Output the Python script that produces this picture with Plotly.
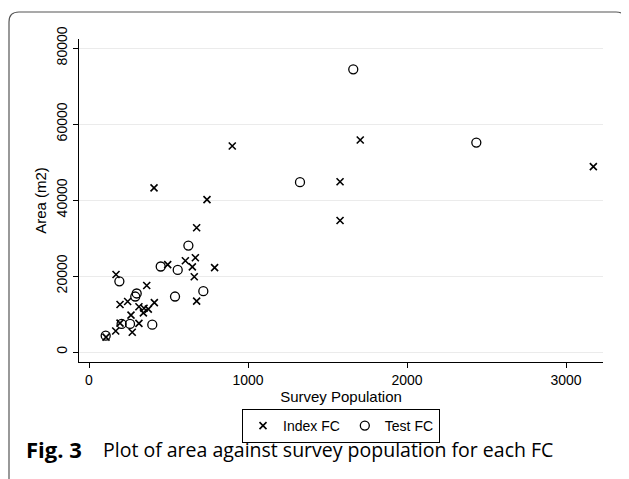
import plotly.graph_objects as go

# Index FC (survey population, area m2)
index_pop = [107, 168, 195, 272, 314, 264, 195, 243, 314, 346, 373, 342, 411,
             170, 363, 409, 495, 606, 669, 650, 662, 677, 677, 742, 790, 901,
             1579, 1579, 1706, 3172]
index_area = [3900, 5530, 7600, 5200, 7550, 9700, 12500, 13300, 11900, 11500,
              11300, 10300, 13000, 20400, 17500, 43200, 23000, 24000, 24800,
              22400, 19800, 13400, 32700, 40100, 22200, 54200, 44800, 34600,
              55800, 48800]

# Test FC
test_pop = [105, 205, 258, 398, 191, 300, 291, 541, 719, 451, 558, 625, 1327,
            1662, 2436]
test_area = [4300, 7400, 7400, 7200, 18600, 15400, 14600, 14600, 16000, 22500,
             21600, 28000, 44700, 74400, 55100]

x_ticks = [0, 1000, 2000, 3000]
y_ticks = [0, 20000, 40000, 60000, 80000]

FONT = "Liberation Sans, Arial, sans-serif"
CAP_FONT = "Open Sans, Noto Sans, sans-serif"

fig = go.Figure()
fig.add_trace(go.Scatter(
    x=index_pop, y=index_area, mode="markers", name="Index FC",
    marker=dict(symbol="x-thin", size=7, color="black",
                line=dict(width=1.6, color="black")),
))
fig.add_trace(go.Scatter(
    x=test_pop, y=test_area, mode="markers", name="Test FC",
    marker=dict(symbol="circle-open", size=9, color="black",
                line=dict(width=1.3, color="black")),
))

OFF = 8  # page body margin
W, H = 629 - OFF, 479 - OFF
L, R, T, B = 79 - OFF, 603 - OFF, 39 - OFF, 362 - OFF
pw, ph = R - L, B - T


def px(xp):
    return (xp - OFF - L) / pw


def py(yp):
    return (B - (yp - OFF)) / ph


# outer rounded frame
r = 10
x0, x1, y0, y1 = 9, 626, 12, 500
path = (f"M {px(x0)} {py(y1)} L {px(x0)} {py(y0 + r)} "
        f"Q {px(x0)} {py(y0)} {px(x0 + r)} {py(y0)} "
        f"L {px(x1 - r)} {py(y0)} Q {px(x1)} {py(y0)} {px(x1)} {py(y0 + r)} "
        f"L {px(x1)} {py(y1)}")
fig.add_shape(type="path", path=path, xref="paper", yref="paper",
              line=dict(color="#555555", width=1.2), layer="above")

fig.add_annotation(
    x=px(24), y=py(449), xref="paper", yref="paper", xanchor="left",
    yanchor="middle", showarrow=False, text="<b>Fig. 3</b>",
    font=dict(family=CAP_FONT, size=22, color="black"),
)
fig.add_annotation(
    x=px(101), y=py(449), xref="paper", yref="paper", xanchor="left",
    yanchor="middle", showarrow=False,
    text="Plot of area against survey population for each FC",
    font=dict(family=CAP_FONT, size=19.5, color="black"),
)

fig.update_layout(
    width=W, height=H,
    margin=dict(l=L, r=W - R, t=T, b=H - B, autoexpand=False),
    paper_bgcolor="white", plot_bgcolor="white",
    font=dict(family=FONT, size=14, color="black"),
    showlegend=True,
    legend=dict(orientation="h", x=0.5, xanchor="center", y=py(409),
                yanchor="top", bordercolor="black", borderwidth=1,
                font=dict(family=FONT, size=14, color="black"),
                itemwidth=30, tracegroupgap=0, bgcolor="rgba(0,0,0,0)"),
    xaxis=dict(range=[-62.9, 3232.7], tickvals=x_ticks,
               ticktext=[str(v) for v in x_ticks],
               showgrid=False, zeroline=False, showline=True,
               linecolor="black", linewidth=1, ticks="outside", ticklen=5,
               tickcolor="black", tickfont=dict(size=14),
               title=dict(text="Survey Population", font=dict(size=15),
                          standoff=4)),
    yaxis=dict(range=[-2632, 82368], tickvals=y_ticks,
               ticktext=[str(v) for v in y_ticks], tickangle=-90,
               showgrid=True, gridcolor="#ebebeb", gridwidth=1,
               zeroline=False, showline=True, linecolor="black", linewidth=1,
               ticks="outside", ticklen=5, tickcolor="black",
               tickfont=dict(size=14),
               title=dict(text="Area (m2)", font=dict(size=15), standoff=4)),
)

fig.write_html("out.html")
